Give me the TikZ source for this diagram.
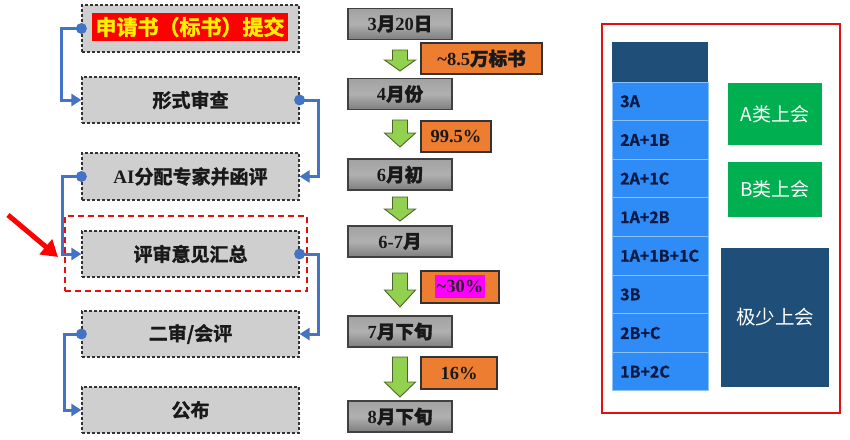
\documentclass[tikz,border=0pt]{standalone}
\usepackage{fontspec}
\setmainfont{Liberation Serif}
\newfontfamily\cjk{Noto Sans CJK SC}
\newfontfamily\cjkb[FakeBold=1.6]{Noto Sans CJK SC Bold}
\newfontfamily\cjkr[FakeBold=1.0]{Noto Sans CJK SC Bold}
\usetikzlibrary{arrows.meta}
\definecolor{connc}{HTML}{4472C4}
\definecolor{lgray}{HTML}{CFCFCF}
\definecolor{mtop}{HTML}{A2A2A2}
\definecolor{mbot}{HTML}{7E7E7E}
\definecolor{orangec}{HTML}{ED7D31}
\definecolor{greenarr}{HTML}{92D050}
\definecolor{greenarrd}{HTML}{4F6228}
\definecolor{navy}{HTML}{1F4E79}
\definecolor{rowblue}{HTML}{2F8CF6}
\definecolor{rowline}{HTML}{8CC3FF}
\definecolor{rowtext}{HTML}{0B1A45}
\definecolor{greenbox}{HTML}{00B050}
\definecolor{redc}{HTML}{E31010}
\definecolor{magc}{HTML}{FF00FF}
\newcommand\garrow[3]{%
  \filldraw[fill=greenarr, draw=greenarrd, line width=0.9pt, line join=miter]
    (392.5,#1) -- (407.5,#1) -- (407.5,#3) -- (415.5,#3) -- (400,#2)
    -- (384.5,#3) -- (392.5,#3) -- cycle;}
\begin{document}
\begin{tikzpicture}[x=1pt, y=-1pt,
  lbox/.style={draw=black!80, dash pattern=on 3pt off 2pt, line width=1.2pt,
    fill=lgray, inner sep=0pt, minimum width=217pt, minimum height=46pt,
    font=\cjkb\fontsize{19}{21}\selectfont, text=black!90},
  mbox/.style={draw=black!75, line width=1.3pt, top color=mtop, bottom color=mbot,
    middle color=mtop!85!white, minimum width=104pt, minimum height=31pt, inner sep=0pt,
    font=\bfseries\fontsize{18.5}{20}\selectfont, text=black!90},
  obox/.style={draw=black!80, line width=1.3pt, fill=orangec, minimum height=31pt,
    inner sep=0pt, font=\bfseries\fontsize{18.5}{20}\selectfont, text=black!90},
  conn/.style={draw=connc, line width=3pt, -{Triangle[length=10pt, width=12pt]}},
  dot/.style={fill=connc},
  rowbox/.style={fill=rowblue, draw=rowline, line width=1pt, minimum width=96pt,
    minimum height=38.6pt, inner sep=0pt},
  rowlab/.style={anchor=west, text=rowtext, inner sep=0pt,
    font=\cjkr\fontsize{16}{18}\selectfont},
  gbox/.style={fill=greenbox, minimum width=94pt, inner sep=0pt, text=white,
    font=\cjk\fontsize{19}{21}\selectfont},
]
\useasboundingbox (0,0) rectangle (850,439);

% ---------- left column ----------
\node[draw=redc, line width=2pt, dash pattern=on 6pt off 4pt, minimum width=242pt,
  minimum height=75pt, inner sep=0pt] (focus) at (186,253.5) {};
\node[lbox, minimum height=47pt] (b1) at (190.5,28.5) {};
\node[fill=red, text=yellow, minimum width=196pt, minimum height=28pt, inner sep=0pt,
  font=\cjkb\fontsize{21}{23}\selectfont] (b1t) at (190,27) {申请书（标书）提交};
\node[lbox] (b2) at (190.5,100) {形式审查};
\node[lbox, minimum height=47pt] (b3) at (190.5,176.5) {{\normalfont\bfseries AI}分配专家并函评};
\node[lbox] (b4) at (190.5,254) {评审意见汇总};
\node[lbox] (b5) at (190.5,334) {二审/会评};
\node[lbox] (b6) at (190.5,410) {公布};

\draw[conn] (b1.west) -- ++(-20,0) |- (b2.west);
\draw[conn] (b2.east) -- ++(19,0) |- (b3.east);
\draw[conn] (b3.west) -- ++(-19,0) |- (b4.west);
\draw[conn] (b4.east) -- ++(19,0) |- (b5.east);
\draw[conn] (b5.west) -- ++(-17,0) |- (b6.west);
\foreach \n/\a in {b1/west,b2/east,b3/west,b4/east,b5/west}
  \fill[dot] (\n.\a) circle (5.5pt);

\coordinate (rs) at (8,215);
\coordinate (re) at (58,257);
\draw[draw=red, line width=5pt, -{Triangle[length=16pt, width=19pt]}] (rs) -- (re);

% ---------- middle column ----------
\node[mbox] (m1) at (400,24) {3{\cjkb 月}20{\cjkb 日}};
\node[mbox] (m2) at (400,94) {4{\cjkb 月份}};
\node[mbox] (m3) at (400,174.5) {6{\cjkb 月初}};
\node[mbox] (m4) at (400,241.5) {6-7{\cjkb 月}};
\node[mbox] (m5) at (400,331.5) {7{\cjkb 月下旬}};
\node[mbox] (m6) at (400,416.5) {8{\cjkb 月下旬}};

\garrow{50}{71}{60}
\garrow{120}{147}{133}
\garrow{197}{221}{209}
\garrow{273}{307}{290}
\garrow{357}{397}{382}

\node[obox, minimum width=121pt] (o1) at (481.5,58.5) {\textasciitilde8.5{\cjkb 万标书}};
\node[obox, minimum width=70pt] (o2) at (456,136.5) {99.5\%};
\node[obox, minimum width=78pt, minimum height=32pt] (o3) at (460,287) {};
\node[fill=magc, minimum width=50pt, minimum height=23pt, inner sep=0pt,
  font=\bfseries\fontsize{18.5}{20}\selectfont, text=black!85] (o3t) at (460,286.5) {\textasciitilde30\%};
\node[obox, minimum width=76pt, minimum height=32pt] (o4) at (459,373) {16\%};

% ---------- right panel ----------
\node[draw=redc, line width=2pt, minimum width=238pt, minimum height=389pt,
  inner sep=0pt] (panel) at (721,218.5) {};
\node[fill=navy, minimum width=96pt, minimum height=40pt, inner sep=0pt] (hdr) at (660,62) {};
\foreach \t [count=\i] in {3A,2A+1B,2A+1C,1A+2B,1A+1B+1C,3B,2B+C,1B+2C}{
  \node[rowbox] (r\i) at (660,{82+(\i-0.5)*38.625}) {};
  \node[rowlab] (rl\i) at (620,{82+(\i-0.5)*38.625}) {\t};
}
\node[gbox, minimum height=62pt] (ga) at (775,114) {A类上会};
\node[gbox, minimum height=55pt] (gb) at (775,189.5) {B类上会};
\node[fill=navy, minimum width=108pt, minimum height=139pt, inner sep=0pt, text=white,
  font=\cjk\fontsize{19.5}{21}\selectfont] (gc) at (775,317.5) {极少上会};
\end{tikzpicture}
\end{document}
